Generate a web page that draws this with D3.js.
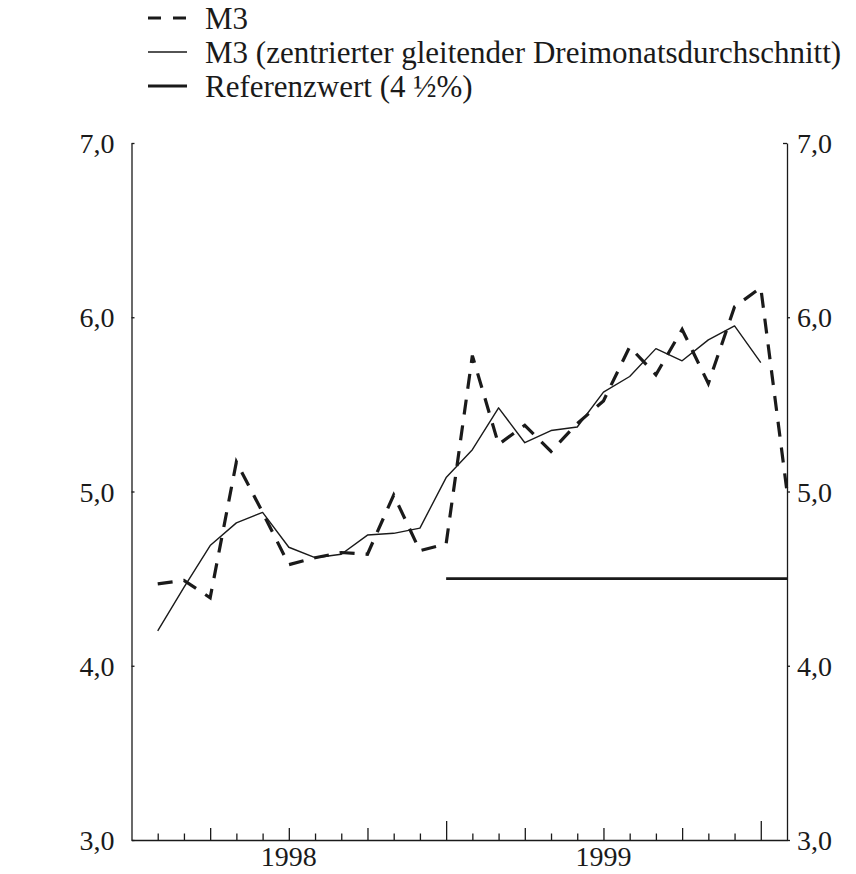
<!DOCTYPE html>
<html><head><meta charset="utf-8">
<script src="https://cdn.jsdelivr.net/npm/d3@7"></script>
<style>
body{margin:0;background:#fff}
svg{display:block}
text{font-family:"Liberation Serif","Times New Roman",serif;fill:#1a1a1a}
</style>
</head><body>
<svg id="c" width="856" height="874"></svg>
<script>
// ---- data ----
const months = ["1997-12",
  "1998-01","1998-02","1998-03","1998-04","1998-05","1998-06","1998-07","1998-08","1998-09","1998-10","1998-11","1998-12",
  "1999-01","1999-02","1999-03","1999-04","1999-05","1999-06","1999-07","1999-08","1999-09","1999-10","1999-11","1999-12",
  "2000-01"];
const m3Months = months.slice(1);          // 1998-01 .. 2000-01
const m3Values = [4.47,4.49,4.39,5.17,4.88,4.58,4.62,4.65,4.64,4.98,4.66,4.70,
                  5.78,5.27,5.38,5.23,5.39,5.52,5.83,5.67,5.93,5.62,6.06,6.17,5.00];
const avgMonths = months.slice(1, 25);     // 1998-01 .. 1999-12
const avgValues = [4.20,4.45,4.69,4.82,4.88,4.68,4.62,4.64,4.75,4.76,4.79,5.08,
                   5.24,5.48,5.28,5.35,5.37,5.57,5.66,5.82,5.75,5.87,5.95,5.74];
const referenceValue = 4.5;
const referenceMonths = ["1998-12","2000-01"];
const yTicks = [3,4,5,6,7];
const yTickLabels = ["3,0","4,0","5,0","6,0","7,0"];
const xTickMonths = months.slice(1, 25);
const yearLabels = ["1998","1999"];
const yearLabelMonths = ["1998-06","1999-06"];
const legendLabels = ["M3","M3 (zentrierter gleitender Dreimonatsdurchschnitt)","Referenzwert (4 \u00BD%)"];

// ---- chart ----
const svg = d3.select("#c");
const x = d3.scalePoint().domain(months).range([131.5, 787]);
const y = d3.scaleLinear().domain([3,7]).range([840,143]);
const ink = "#1a1a1a";
const fmtY = d => yTickLabels[yTicks.indexOf(d)];

// left axis
const gl = svg.append("g").attr("transform", `translate(${x(months[0])},0)`)
  .call(d3.axisLeft(y).tickValues(yTicks).tickFormat(fmtY).tickSizeInner(-3).tickSizeOuter(0).tickPadding(17));
// right axis
const gr = svg.append("g").attr("transform", `translate(${x(months[months.length-1])},0)`)
  .call(d3.axisRight(y).tickValues(yTicks).tickFormat(fmtY).tickSizeInner(3).tickSizeOuter(0).tickPadding(7));
gr.selectAll(".tick line").filter(d => d === 7).attr("x2", -4);
// bottom axis
const tickLen = m => { const i = months.indexOf(m); return i % 12 === 0 ? 19 : (i % 3 === 0 ? 12 : 6.5); };
const gb = svg.append("g").attr("transform", `translate(0,${y(3)})`)
  .call(d3.axisBottom(x).tickValues(xTickMonths).tickFormat("").tickSizeInner(-6.5).tickSizeOuter(0));
gb.selectAll(".tick line").attr("y2", d => -tickLen(d));

[gl, gr, gb].forEach(g => {
  g.selectAll("path.domain,line").attr("stroke", ink).attr("stroke-width", 1.3);
  g.selectAll("text").attr("font-size", 28).attr("fill", ink)
   .attr("font-family", '"Liberation Serif","Times New Roman",serif');
});
gr.selectAll(".tick text").attr("dy", "0.34em");
gl.selectAll(".tick text").attr("dy", "0.34em");

// year labels
svg.append("g").selectAll("text").data(yearLabels).join("text")
  .attr("x", (d,i) => x(yearLabelMonths[i])).attr("y", 866)
  .attr("text-anchor", "middle").attr("font-size", 28).text(d => d);

// reference line
svg.append("line")
  .attr("x1", x(referenceMonths[0])).attr("x2", x(referenceMonths[1]))
  .attr("y1", y(referenceValue)).attr("y2", y(referenceValue))
  .attr("stroke", ink).attr("stroke-width", 2.8);

// moving average (thin solid)
svg.append("path")
  .datum(avgMonths.map((m,i) => [m, avgValues[i]]))
  .attr("fill", "none").attr("stroke", ink).attr("stroke-width", 1.4).attr("stroke-linejoin","round")
  .attr("d", d3.line().x(d => x(d[0])).y(d => y(d[1])));

// M3 (dashed)
svg.append("path")
  .datum(m3Months.map((m,i) => [m, m3Values[i]]))
  .attr("fill", "none").attr("stroke", ink).attr("stroke-width", 3.2)
  .attr("stroke-dasharray", "15,11")
  .attr("d", d3.line().x(d => x(d[0])).y(d => y(d[1])));

// legend
const legend = svg.append("g");
const rowsY = [18, 52, 86];
const lx1 = 148, lx2 = 187, tx = 205;
legend.append("line").attr("x1", lx1).attr("x2", lx2).attr("y1", rowsY[0]).attr("y2", rowsY[0])
  .attr("stroke", ink).attr("stroke-width", 3.2).attr("stroke-dasharray", "13,12");
legend.append("line").attr("x1", lx1).attr("x2", lx2).attr("y1", rowsY[1]).attr("y2", rowsY[1])
  .attr("stroke", ink).attr("stroke-width", 1.4);
legend.append("line").attr("x1", lx1).attr("x2", lx2).attr("y1", rowsY[2]).attr("y2", rowsY[2])
  .attr("stroke", ink).attr("stroke-width", 2.8);
legend.selectAll("text").data(legendLabels).join("text")
  .attr("x", tx).attr("y", (d,i) => rowsY[i]).attr("dy", "0.35em")
  .attr("font-size", 31).text(d => d);
</script>
</body></html>
